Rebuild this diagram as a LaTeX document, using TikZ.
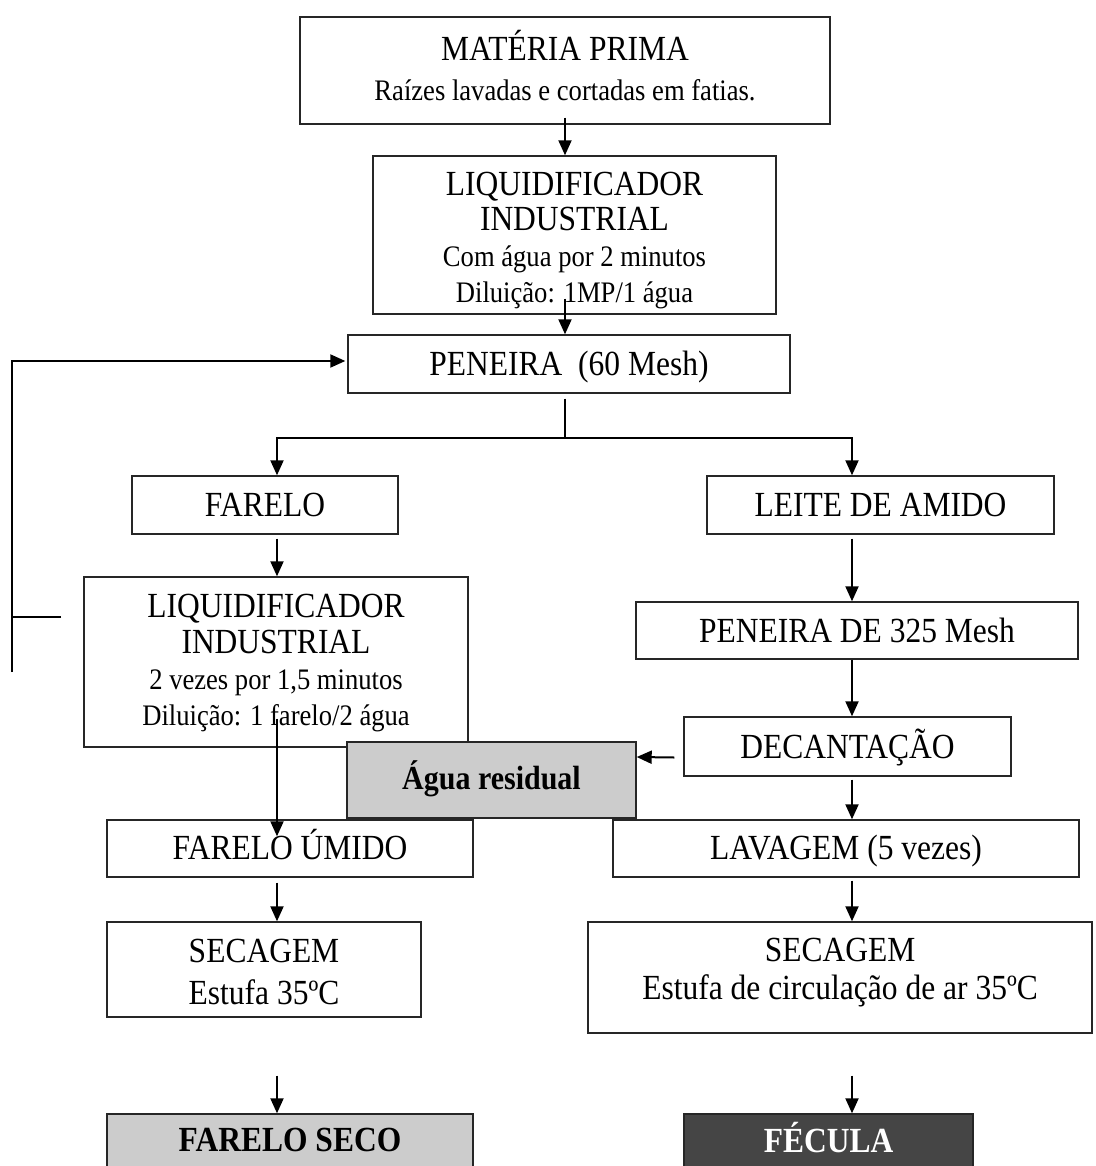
\documentclass[tikz,border=0pt]{standalone}
\usepackage{fontspec}
\usepackage{graphicx}
\setmainfont{Liberation Serif}
\usetikzlibrary{positioning,calc,arrows.meta}
\definecolor{residgray}{HTML}{CCCCCC}
\definecolor{feculagray}{HTML}{454545}
\newcommand{\bigtxt}{\fontsize{31.5}{32}\selectfont}
\newcommand{\smalltxt}{\fontsize{26.6}{32}\selectfont}
% text of the scan is a little taller than wide; optional arg pads the top
\newcommand{\tallbox}[2][8pt]{\scalebox{1}[1.12]{\raisebox{0pt}[\dimexpr\height+#1\relax]{\begin{tabular}{@{}c@{}}#2\end{tabular}}}}

\begin{document}
\begin{tikzpicture}[x=1pt, y=-1pt,
  stage/.style={draw=black!85, line width=1.4pt, inner sep=0pt, font=\bigtxt},
  product/.style={stage, font=\bigtxt\bfseries},
  link/.style={line width=2pt},
  flow/.style={link, -{Triangle[length=15pt,width=13pt]}}]
\clip (0,0) rectangle (1095,1166);

% column axes
\coordinate (colL) at (277,0);
\coordinate (colM) at (565,0);
\coordinate (colR) at (852,0);
\coordinate (split) at (565,438);
\coordinate (fbBot) at (12,672);
\coordinate (fbStub) at (61,617);

\node[stage, minimum width=530pt, minimum height=107pt] (mp) at (565,70.5)
  {\tallbox[0pt]{MATÉRIA PRIMA\\[4pt] \smalltxt Raízes lavadas e cortadas em fatias.}};
\node[stage, minimum width=403pt, minimum height=158pt] (liqA) at (574.5,235)
  {\tallbox[12pt]{LIQUIDIFICADOR\\ INDUSTRIAL\\ \smalltxt Com água por 2 minutos\\ \smalltxt Diluição: 1MP/1 água}};
\node[stage, minimum width=442pt, minimum height=58pt] (pen) at (569,364) {\tallbox{PENEIRA~~(60 Mesh)}};

% left branch
\node[stage, minimum width=266pt, minimum height=58pt] (farelo) at (265,505) {\tallbox{FARELO}};
\node[stage, minimum width=384pt, minimum height=170pt] (liqB) at (276,662)
  {\tallbox[4pt]{LIQUIDIFICADOR\\ INDUSTRIAL\\ \smalltxt 2 vezes por 1,5 minutos\\ \smalltxt Diluição: 1 farelo/2 água}};
\node[stage, minimum width=366pt, minimum height=57pt] (fumido) at (290,848.5) {\tallbox[2pt]{FARELO ÚMIDO}};
\node[stage, minimum width=314pt, minimum height=95pt] (secA) at (264,969.5)
  {\tallbox[12pt]{SECAGEM\\[6pt] Estufa 35ºC}};
\node[product, fill=residgray, minimum width=366pt, minimum height=56pt] (fseco) at (290,1142) {\tallbox[4pt]{FARELO SECO}};

% right branch
\node[stage, minimum width=347pt, minimum height=58pt] (leite) at (880.5,505) {\tallbox{LEITE DE AMIDO}};
\node[stage, minimum width=442pt, minimum height=57pt] (pen325) at (857,630.5) {\tallbox{PENEIRA DE 325 Mesh}};
\node[stage, minimum width=327pt, minimum height=59pt] (decant) at (847.5,746.5) {\tallbox[4pt]{DECANTAÇÃO}};
\node[product, fill=residgray, minimum width=289pt, minimum height=76pt, font=\fontsize{30}{32}\selectfont\bfseries] (agua) at (491.5,780) {\tallbox[0pt]{Água residual}};
\node[stage, minimum width=466pt, minimum height=57pt] (lavagem) at (846,848.5) {\tallbox[6pt]{LAVAGEM (5 vezes)}};
\node[stage, minimum width=504pt, minimum height=111pt] (secB) at (840,977.5)
  {\tallbox[-8pt]{SECAGEM\\[2pt] Estufa de circulação de ar 35ºC}};
\node[product, fill=feculagray, text=white, minimum width=289pt, minimum height=56pt] (fecula) at (828.5,1142) {\tallbox[2pt]{FÉCULA}};

\draw[flow] ($(mp.south -| colM)+(0,-7)$) -- (liqA.north -| colM);
\draw[flow] ($(liqA.south -| colM)+(0,-16)$) -- (pen.north -| colM);
\draw[link] ($(pen.south -| colM)+(0,5)$) -- (split);
\draw[flow] (split) -| (farelo.north -| colL);
\draw[flow] (split) -| (leite.north -| colR);

\draw[flow] ($(farelo.south -| colL)+(0,4)$) -- (liqB.north -| colL);
\draw[flow] ($(liqB.south -| colL)+(0,-29)$) -- ($(fumido.north -| colL)+(0,17)$);
\draw[flow] ($(fumido.south -| colL)+(0,5)$) -- (secA.north -| colL);
\draw[flow] ($(secA.south -| colL)+(0,58)$) -- (fseco.north -| colL);

\draw[flow] ($(leite.south -| colR)+(0,4)$) -- (pen325.north -| colR);
\draw[flow] (pen325.south -| colR) -- (decant.north -| colR);
\draw[flow] ($(decant.south -| colR)+(0,3)$) -- (lavagem.north -| colR);
\draw[flow] ($(lavagem.south -| colR)+(0,3)$) -- (secB.north -| colR);
\draw[flow] ($(secB.south -| colR)+(0,42)$) -- (fecula.north -| colR);
\draw[flow] ($(decant.west)+(-9,11)$) -- ($(agua.east)+(0,-23)$);

% recycle loop back to the sieve
\draw[link] (fbStub) -- (fbStub -| fbBot);
\draw[flow] (fbBot) |- ($(pen.west)+(-2,-3)$);
\end{tikzpicture}
\end{document}
